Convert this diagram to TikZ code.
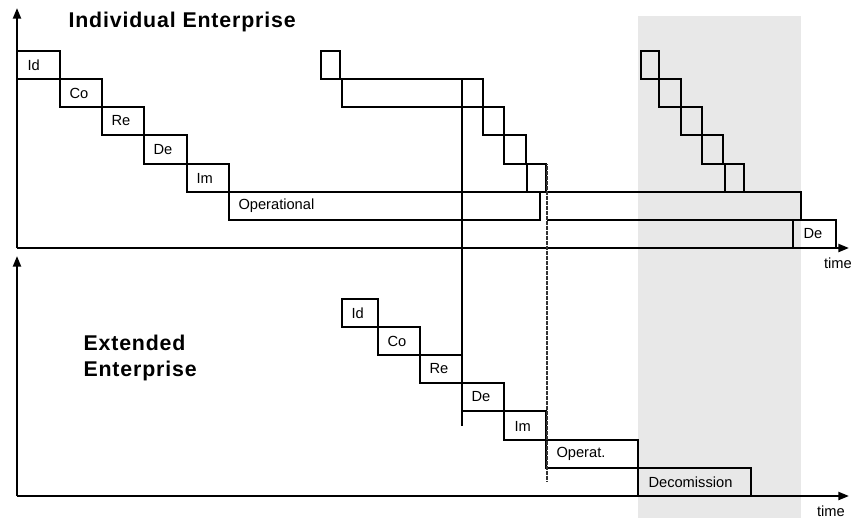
\documentclass[tikz,border=0pt]{standalone}
\usepackage{fontspec}
\setmainfont{Liberation Sans}
\usetikzlibrary{arrows.meta}

\definecolor{bandgray}{RGB}{232,232,232}
\definecolor{cutline}{RGB}{50,50,50}

\tikzset{every picture/.style={line width=0.75pt}}
\tikzset{
	phase/.style={line width=0.9pt},
	axis/.style={line width=1.6pt,-{Triangle[length=8pt,width=6pt]}},
	lbl/.style={anchor=west,inner sep=0pt,font=\fontsize{11}{13}\selectfont},
	title/.style={anchor=west,inner sep=0pt,align=left,font=\fontsize{16}{19}\selectfont\bfseries\addfontfeature{LetterSpace=4}}
}

\begin{document}
\begin{tikzpicture}[x=0.75pt,y=0.75pt,yscale=-1,xscale=1]
	\useasboundingbox (0,0) rectangle (860,518);

	%Shaded decommission band
	\fill [bandgray] (638,16) rectangle (801,518) ;

	%Axes
	\coordinate (oA) at (17,248) ;
	\coordinate (yA) at (17,8) ;
	\coordinate (xA) at (849,248) ;
	\coordinate (oB) at (17,496) ;
	\coordinate (yB) at (17,256) ;
	\coordinate (xB) at (849,496) ;
	\draw [axis] (oA) -- (yA) ;
	\draw [axis] (oA) -- (xA) ;
	\draw [axis] (oB) -- (yB) ;
	\draw [axis] (oB) -- (xB) ;

	%Individual enterprise: first life cycle
	\draw [phase] (17,51) rectangle (60,79) ;
	\draw [phase] (60,79) rectangle (102,107) ;
	\draw [phase] (102,107) rectangle (144,135) ;
	\draw [phase] (144,135) rectangle (187,164) ;
	\draw [phase] (187,164) rectangle (229,192) ;
	\draw [phase] (229,192) rectangle (540,220) ;

	%Individual enterprise: change project
	\draw [phase] (321,51) rectangle (340,79) ;
	\draw [phase] (342,79) rectangle (483,107) ;
	\draw [phase] (483,107) rectangle (504,135) ;
	\draw [phase] (504,135) rectangle (526,164) ;
	\draw [phase] (527,164) rectangle (546,192) ;
	\draw [phase] (540,192) -- (801,192) -- (801,220) -- (547,220) ;
	\draw [phase] (547,220) -- (836,220) -- (836,248) ;
	\draw [phase] (793,220) -- (793,248) ;

	%Individual enterprise: decommission staircase
	\draw [phase] (641,51) rectangle (659,79) ;
	\draw [phase] (659,79) rectangle (681,107) ;
	\draw [phase] (681,107) rectangle (702,135) ;
	\draw [phase] (702,135) rectangle (723,164) ;
	\draw [phase] (725,164) rectangle (744,192) ;

	%Extended enterprise life cycle
	\draw [phase] (342,299) rectangle (378,327) ;
	\draw [phase] (378,327) rectangle (420,355) ;
	\draw [phase] (420,355) rectangle (462,383) ;
	\draw [phase] (462,383) rectangle (504,411) ;
	\draw [phase] (504,411) rectangle (546,440) ;
	\draw [phase] (546,440) rectangle (638,468) ;
	\draw [phase] (638,468) rectangle (751,496) ;

	%Time markers
	\coordinate (mA) at (462,79) ;
	\coordinate (mB) at (462,426) ;
	\coordinate (nA) at (547,164) ;
	\coordinate (nB) at (547,482) ;
	\draw [line width=1.5pt] (mA) -- (mB) ;
	\draw [cutline,line width=1.3pt,dash pattern=on 1pt off 0.25pt] (nA) -- (nB) ;

	% Text Node
	\node [title] (tInd) at (68,22) {Individual Enterprise};
	% Text Node
	\node [title] (tExt) at (83,358) {Extended\\Enterprise};
	% Text Node
	\node [lbl] (idA) at (27,65) {Id};
	\node [lbl] (coA) at (69,93) {Co};
	\node [lbl] (reA) at (111,121) {Re};
	\node [lbl] (deA) at (153,150) {De};
	\node [lbl] (imA) at (196,178) {Im};
	\node [lbl] (opA) at (238,206) {Operational};
	\node [lbl] (deC) at (803,234) {De};
	% Text Node
	\node [lbl] (idB) at (351,313) {Id};
	\node [lbl] (coB) at (387,341) {Co};
	\node [lbl] (reB) at (429,369) {Re};
	\node [lbl] (deB) at (471,397) {De};
	\node [lbl] (imB) at (514,426) {Im};
	\node [lbl] (opB) at (556,454) {Operat.};
	\node [lbl] (dcB) at (648,482) {Decomission};
	% Text Node
	\node [lbl,anchor=center] (tmA) at (838,263) {time};
	\node [lbl,anchor=center] (tmB) at (831,511) {time};

\end{tikzpicture}
\end{document}
